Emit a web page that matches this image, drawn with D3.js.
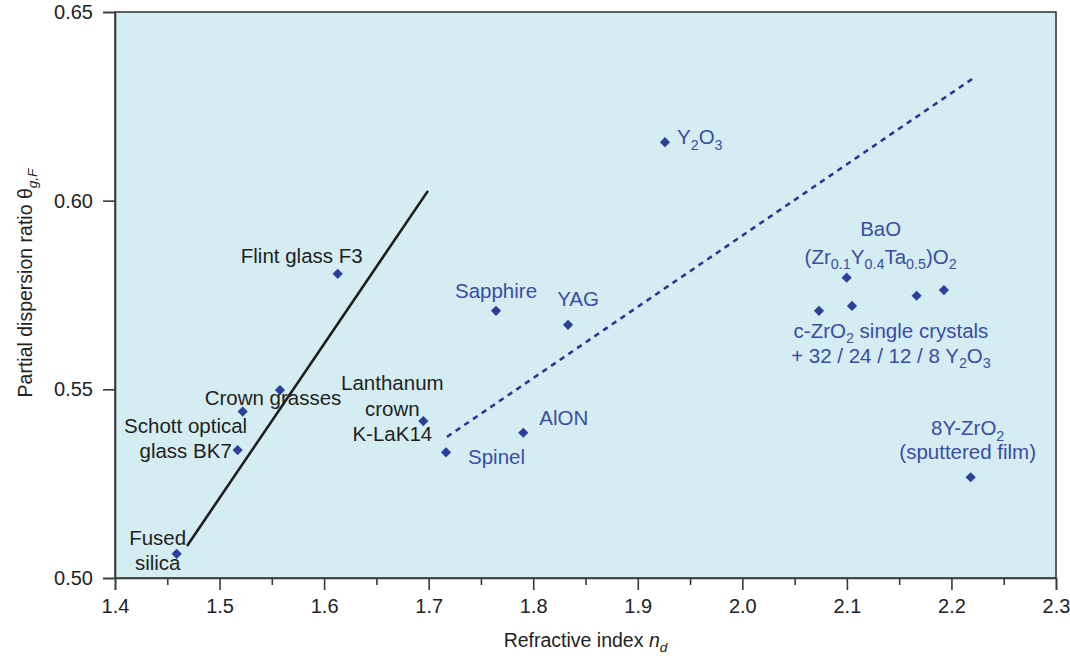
<!DOCTYPE html>
<html>
<head>
<meta charset="utf-8">
<script src="https://cdn.jsdelivr.net/npm/d3@7"></script>
<style>
  html, body { margin: 0; padding: 0; background: #ffffff; }
  svg { display: block; }
  text { font-family: "Liberation Sans", Arial, Helvetica, sans-serif; }
</style>
</head>
<body>
<svg id="chart" width="1070" height="658"></svg>
<script>
// ---- data ----
const materials = [
  "Fused silica", "BK7", "Crown glass A", "Crown glass B", "F3", "K-LaK14",
  "Spinel", "AlON", "Sapphire", "YAG", "Y2O3", "BaO(Zr,Y,Ta)O2",
  "c-ZrO2 32Y", "c-ZrO2 24Y", "c-ZrO2 12Y", "c-ZrO2 8Y", "8Y-ZrO2 film"
];
const refractiveIndex = [
  1.459, 1.5173, 1.5221, 1.5578, 1.613, 1.6949,
  1.7166, 1.7905, 1.7644, 1.8333, 1.926, 2.0998,
  2.0733, 2.1049, 2.1667, 2.1928, 2.2184
];
const partialDispersion = [
  0.5064, 0.5339, 0.5441, 0.5498, 0.5806, 0.5416,
  0.5333, 0.5385, 0.5708, 0.5671, 0.6155, 0.5796,
  0.5708, 0.5721, 0.5748, 0.5763, 0.5267
];

// trend lines: glasses (solid) and crystalline ceramics (dotted)
const glassTrend = [[1.4689, 0.5085], [1.6993, 0.6026]];
const ceramicTrend = [[1.7175, 0.5374], [2.2232, 0.6329]];

// axis ticks
const xMajorTicks = [1.4, 1.5, 1.6, 1.7, 1.8, 1.9, 2.0, 2.1, 2.2, 2.3];
const xMinorTicks = [1.45, 1.55, 1.65, 1.75, 1.85, 1.95, 2.05, 2.15, 2.25];
const yTicks = [0.50, 0.55, 0.60, 0.65];

// annotations: lines of text, the point each belongs to, and its family
const labelText = [
  ["Fused", "silica"],
  ["Schott optical", "glass BK7"],
  ["Crown grasses"],
  ["Flint glass F3"],
  ["Lanthanum", "crown", "K-LaK14"],
  ["Spinel"],
  ["AlON"],
  ["Sapphire"],
  ["YAG"],
  ["Y_{2}O_{3}"],
  ["BaO", "(Zr_{0.1}Y_{0.4}Ta_{0.5})O_{2}"],
  ["c-ZrO_{2} single crystals", "+ 32 / 24 / 12 / 8 Y_{2}O_{3}"],
  ["8Y-ZrO_{2}", "(sputtered film)"]
];
const labelPoint = [0, 1, 3, 4, 5, 6, 7, 8, 9, 10, 11, 12, 16];
const labelFamily = ["glass", "glass", "glass", "glass", "glass",
  "crystal", "crystal", "crystal", "crystal", "crystal", "crystal", "crystal", "crystal"];

// ---- layout ----
const W = 1070, H = 658;
const margin = { top: 12, right: 14, bottom: 80, left: 115 };
const innerW = W - margin.left - margin.right;
const innerH = H - margin.top - margin.bottom;

// label placement relative to its point: [dx, dy, anchor, line gap]
const labelPlacement = [
  [-19, -9, "middle", 25],
  [-52, -17, "middle", 25],
  [-7, 15, "middle", 25],
  [-36, -11, "middle", 25],
  [-31, -31, "middle", 25.5],
  [22, 12, "start", 25],
  [16, -8, "start", 25],
  [0, -13, "middle", 25],
  [10, -19, "middle", 25],
  [12, 2, "start", 25],
  [34, -42, "middle", 28],
  [72, 27, "middle", 25],
  [-3, -42, "middle", 24]
];

const colors = {
  plotBg: "#d4edf2",
  frame: "#3a3a3a",
  point: "#2c3f9c",
  glassText: "#231f20",
  crystalText: "#3a4ca6",
  glassLine: "#1f1c1d",
  ceramicLine: "#2a3893"
};

const svg = d3.select("#chart");
const g = svg.append("g").attr("transform", `translate(${margin.left},${margin.top})`);

const x = d3.scaleLinear().domain([1.4, 2.3]).range([0, innerW]);
const y = d3.scaleLinear().domain([0.5, 0.65]).range([innerH, 0]);

// plot background
g.append("rect")
  .attr("width", innerW).attr("height", innerH)
  .attr("fill", colors.plotBg);

// writes text with _{...} subscripts and *{...} italics; a leading * inside a subscript makes it italic
function richText(sel, str, fs) {
  const re = /_\{([^}]*)\}|\*\{([^}]*)\}|([^_*]+)/g;
  let shift = 0, m;
  while ((m = re.exec(str)) !== null) {
    let t, target = 0, sub = false, ital = false;
    if (m[1] !== undefined) {
      t = m[1]; sub = true; target = fs * 0.27;
      if (t.startsWith("*")) { t = t.slice(1); ital = true; }
    } else if (m[2] !== undefined) {
      t = m[2]; ital = true;
    } else {
      t = m[3];
    }
    const ts = sel.append("tspan").text(t);
    if (target - shift !== 0) ts.attr("dy", target - shift);
    shift = target;
    if (sub) ts.attr("font-size", fs * 0.7);
    if (ital) ts.attr("font-style", "italic");
  }
}

// trend lines
const line = d3.line().x(d => x(d[0])).y(d => y(d[1]));
g.append("path").datum(glassTrend)
  .attr("d", line).attr("fill", "none")
  .attr("stroke", colors.glassLine).attr("stroke-width", 2.6);
g.append("path").datum(ceramicTrend)
  .attr("d", line).attr("fill", "none")
  .attr("stroke", colors.ceramicLine).attr("stroke-width", 2.6)
  .attr("stroke-dasharray", "5.5,5");

// data points as diamonds
const diamond = d3.symbol(d3.symbolSquare, 52);
g.selectAll("path.pt").data(materials).join("path")
  .attr("class", "pt")
  .attr("d", diamond)
  .attr("transform", (d, i) => `translate(${x(refractiveIndex[i])},${y(partialDispersion[i])}) rotate(45)`)
  .attr("fill", colors.point);

// annotations
const labelFs = 20.5;
labelText.forEach((lines, k) => {
  const i = labelPoint[k];
  const [dx, dy, anchor, gap] = labelPlacement[k];
  const px = x(refractiveIndex[i]) + dx;
  const py = y(partialDispersion[i]) + dy;
  lines.forEach((ln, j) => {
    const t = g.append("text")
      .attr("x", px).attr("y", py + j * gap)
      .attr("text-anchor", anchor)
      .attr("font-size", labelFs)
      .attr("fill", labelFamily[k] === "glass" ? colors.glassText : colors.crystalText);
    richText(t, ln, labelFs);
  });
});

// frame
g.append("rect")
  .attr("width", innerW).attr("height", innerH)
  .attr("fill", "none").attr("stroke", colors.frame).attr("stroke-width", 1.6);

// x axis
g.append("g").attr("transform", `translate(0,${innerH})`)
  .call(d3.axisBottom(x).tickValues(xMajorTicks).tickFormat(d3.format(".1f")).tickSize(12).tickPadding(9));
g.append("g").attr("transform", `translate(0,${innerH})`)
  .call(d3.axisBottom(x).tickValues(xMinorTicks).tickFormat("").tickSize(7))
  .call(s => s.select(".domain").remove());

// y axis
g.append("g")
  .call(d3.axisLeft(y).tickValues(yTicks).tickFormat(d3.format(".2f")).tickSize(12).tickPadding(10));

g.selectAll(".tick line").attr("stroke", colors.frame).attr("stroke-width", 1.6);
g.selectAll(".domain").attr("stroke", colors.frame).attr("stroke-width", 1.6);
g.selectAll(".tick text")
  .attr("font-family", "'Liberation Sans', Arial, Helvetica, sans-serif")
  .attr("font-size", 20).attr("fill", "#222");

// axis titles
const titleFs = 19.5;
const xt = svg.append("text")
  .attr("x", margin.left + innerW / 2).attr("y", 647)
  .attr("text-anchor", "middle").attr("font-size", titleFs).attr("fill", "#222");
richText(xt, "Refractive index *{n}_{*d}", titleFs);

const yt = svg.append("text")
  .attr("transform", `translate(32,${margin.top + innerH / 2 - 12}) rotate(-90)`)
  .attr("text-anchor", "middle").attr("font-size", titleFs).attr("fill", "#222");
richText(yt, "Partial dispersion ratio \u03B8_{*g,F}", titleFs);
</script>
</body>
</html>
